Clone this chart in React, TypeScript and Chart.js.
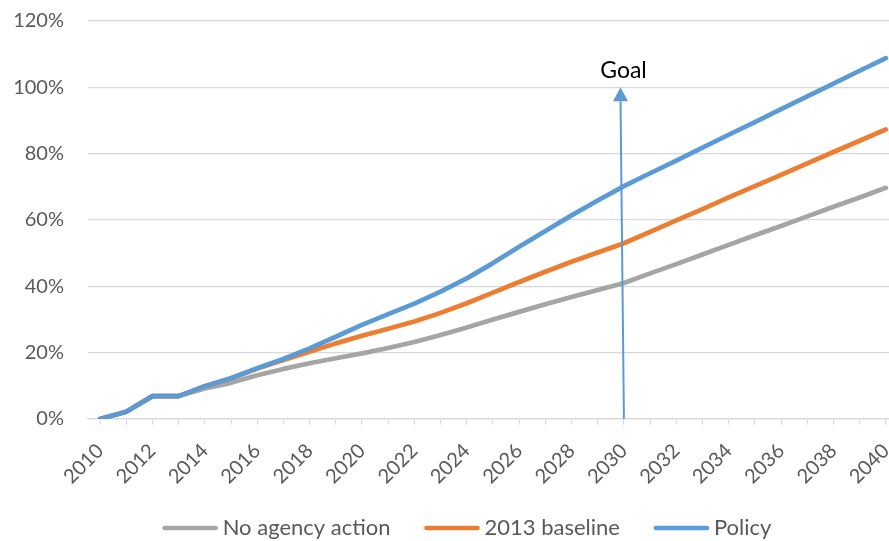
import { useEffect, useRef } from "react";
import { Chart, registerables } from "chart.js";

Chart.register(...registerables);

// Years on the horizontal axis
const years = [
  2010, 2011, 2012, 2013, 2014, 2015, 2016, 2017, 2018, 2019, 2020,
  2021, 2022, 2023, 2024, 2025, 2026, 2027, 2028, 2029, 2030,
  2031, 2032, 2033, 2034, 2035, 2036, 2037, 2038, 2039, 2040,
];

// Cumulative change, in percent
const noAgencyAction = [
  0, 2.2, 6.9, 6.9, 9.2, 10.9, 13.2, 15.1, 16.8, 18.3, 19.8,
  21.4, 23.2, 25.3, 27.6, 30.0, 32.3, 34.6, 36.8, 38.9, 41.0,
  43.9, 46.7, 49.6, 52.5, 55.4, 58.2, 61.1, 64.0, 66.8, 69.7,
];
const baseline2013 = [
  0, 2.2, 6.9, 6.9, 9.9, 12.3, 15.2, 17.8, 20.3, 22.8, 25.1,
  27.2, 29.4, 32.0, 34.9, 38.1, 41.3, 44.4, 47.4, 50.2, 53.0,
  56.4, 59.9, 63.3, 66.8, 70.2, 73.6, 77.1, 80.5, 83.9, 87.3,
];
const policy = [
  0, 2.2, 6.9, 6.9, 9.9, 12.3, 15.3, 18.1, 21.3, 24.8, 28.4,
  31.6, 34.8, 38.4, 42.4, 47.0, 51.9, 56.7, 61.4, 65.9, 70.2,
  74.1, 77.9, 81.8, 85.7, 89.5, 93.4, 97.3, 101.1, 105.0, 108.8,
];

const seriesLabels = ["No agency action", "2013 baseline", "Policy"];
const seriesColors = ["#A5A5A5", "#ED7D31", "#5B9BD5"];
const seriesValues = [noAgencyAction, baseline2013, policy];

// Vertical axis range and spacing, in percent
const yMin = 0;
const yMax = 120;
const yStep = 20;

// Target marker
const goalYear = 2030;
const goalTopYear = 2029.87;
const goalLevel = 100;
const goalLabel = "Goal";

const FONT = "Lato, 'Open Sans', sans-serif";
const TEXT_GRAY = "#595959";
const GRID_GRAY = "#D9D9D9";

const goalArrow = {
  id: "goalArrow",
  afterDatasetsDraw(chart: any) {
    const { ctx, scales } = chart;
    const xs = scales.x;
    const ys = scales.y;
    const x0 = xs.getPixelForValue(goalYear);
    const y0 = ys.getPixelForValue(0);
    const x1 = xs.getPixelForValue(goalTopYear);
    const y1 = ys.getPixelForValue(goalLevel);
    const headLen = 14;
    const headHalf = 7.5;
    const color = seriesColors[2];
    ctx.save();
    ctx.strokeStyle = color;
    ctx.fillStyle = color;
    ctx.lineWidth = 2;
    ctx.beginPath();
    ctx.moveTo(x0, y0);
    ctx.lineTo(x1, y1 + headLen);
    ctx.stroke();
    ctx.beginPath();
    ctx.moveTo(x1, y1);
    ctx.lineTo(x1 - headHalf, y1 + headLen);
    ctx.lineTo(x1 + headHalf, y1 + headLen);
    ctx.closePath();
    ctx.fill();
    ctx.fillStyle = "#000000";
    ctx.font = `23px ${FONT}`;
    ctx.textAlign = "center";
    ctx.textBaseline = "alphabetic";
    ctx.fillText(goalLabel, x1 + 3, y1 - 9);
    ctx.restore();
  },
};

const lineLegend = {
  id: "lineLegend",
  afterDraw(chart: any) {
    const { ctx } = chart;
    const datasets = chart.data.datasets;
    const sampleW = 55;
    const sampleGap = 5;
    const itemGap = 34;
    ctx.save();
    ctx.font = `22px ${FONT}`;
    const widths = datasets.map(
      (d: any) => sampleW + sampleGap + ctx.measureText(d.label).width
    );
    const total =
      widths.reduce((a: number, b: number) => a + b, 0) +
      itemGap * (datasets.length - 1);
    let x = chart.width / 2 - total / 2;
    const y = 528;
    datasets.forEach((d: any, i: number) => {
      ctx.strokeStyle = d.borderColor;
      ctx.lineWidth = 4.7;
      ctx.lineCap = "round";
      ctx.beginPath();
      ctx.moveTo(x + 2, y);
      ctx.lineTo(x + sampleW - 2, y);
      ctx.stroke();
      ctx.fillStyle = TEXT_GRAY;
      ctx.textAlign = "left";
      ctx.textBaseline = "middle";
      ctx.fillText(d.label, x + sampleW + sampleGap, y);
      x += widths[i] + itemGap;
    });
    ctx.restore();
  },
};

export default function App() {
  const canvasRef = useRef<HTMLCanvasElement | null>(null);

  useEffect(() => {
    const canvas = canvasRef.current;
    if (!canvas) return;
    const datasets = seriesLabels.map((label, i) => ({
      label,
      data: years.map((yr, j) => ({ x: yr, y: seriesValues[i][j] })),
      borderColor: seriesColors[i],
      backgroundColor: seriesColors[i],
      borderWidth: 4.7,
      borderCapStyle: "round" as const,
      borderJoinStyle: "round" as const,
      pointRadius: 0,
      tension: 0,
      fill: false,
      order: seriesLabels.length - i,
    }));

    const chart = new Chart(canvas, {
      type: "line",
      data: { datasets },
      options: {
        animation: false,
        responsive: false,
        devicePixelRatio: 1,
        layout: { padding: { left: 0, top: 21, right: 45, bottom: 0 } },
        plugins: {
          legend: { display: false },
          tooltip: { enabled: false },
        },
        scales: {
          x: {
            type: "linear",
            min: 2009.54,
            max: 2040.12,
            afterBuildTicks: (scale: any) => {
              scale.ticks = years.map((v) => ({ value: v }));
            },
            afterFit: (scale: any) => {
              scale.height = 122;
            },
            ticks: {
              autoSkip: false,
              minRotation: 45,
              maxRotation: 45,
              padding: 14,
              color: TEXT_GRAY,
              font: { family: FONT, size: 20 },
              callback: (v: any) => (Number(v) % 2 === 0 ? String(v) : ""),
            },
            grid: {
              drawOnChartArea: false,
              drawTicks: true,
              tickLength: 6,
              color: GRID_GRAY,
            },
            border: { display: true, color: GRID_GRAY, width: 1.3 },
          },
          y: {
            min: yMin,
            max: yMax,
            afterFit: (scale: any) => {
              scale.width = 88;
            },
            ticks: {
              stepSize: yStep,
              padding: 0,
              color: TEXT_GRAY,
              font: { family: FONT, size: 20 },
              callback: (v: any) => `${v}%`,
            },
            grid: {
              color: GRID_GRAY,
              lineWidth: 1.3,
              drawTicks: true,
              tickLength: 24,
              tickColor: "rgba(0,0,0,0)",
            },
            border: { display: false },
          },
        },
      },
      plugins: [goalArrow, lineLegend],
    });
    return () => chart.destroy();
  }, []);

  return (
    <div
      style={{
        position: "absolute",
        left: 0,
        top: 0,
        width: 889,
        height: 541,
        overflow: "hidden",
        background: "#ffffff",
      }}
    >
      <canvas ref={canvasRef} width={934} height={541} style={{ width: 934, height: 541 }} />
    </div>
  );
}
